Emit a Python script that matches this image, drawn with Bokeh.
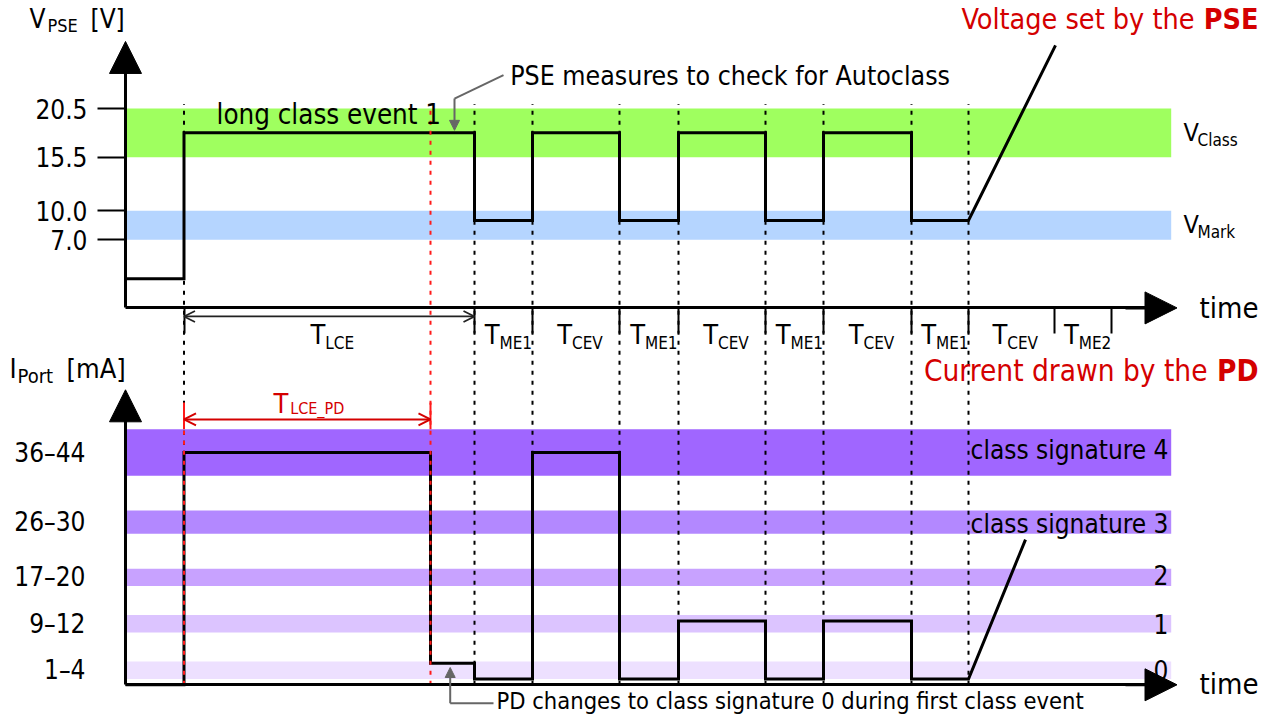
from bokeh.plotting import figure
from bokeh.models import (Range1d, LinearAxis, FixedTicker, NumeralTickFormatter,
                          CustomJSTickFormatter, Arrow, NormalHead, OpenHead)
from bokeh.core.properties import value
from bokeh.embed import file_html
from bokeh.resources import INLINE

# ---------------- data ----------------
# voltage bands [V]
v_band_low = [15.5, 7.0]
v_band_high = [20.5, 10.0]
v_ticks = [7.0, 10.0, 15.5, 20.5]

# current bands [mA] (class signatures 0..4)
i_band_low = [1, 9, 17, 26, 36]
i_band_high = [4, 12, 20, 30, 44]
i_tick_labels = ["1\u20134", "9\u201312", "17\u201320", "26\u201330", "36\u201344"]
class_labels = ["0", "1", "2", "class signature 3", "class signature 4"]

# time boundaries (arbitrary time units)
v_edges = [0, 5.85, 34.9, 40.7, 49.4, 55.3, 64.0, 69.8, 78.6, 84.3]
v_levels = [3, 18, 9, 18, 9, 18, 9, 18, 9]
v_ramp_end = (93.0, 27.0)

t_lce_pd_end = 30.5
i_edges = [0, 5.85, 30.5, 34.9, 40.7, 49.4, 55.3, 64.0, 69.8, 78.6, 84.3]
i_levels = [0, 40, 3.7, 1, 40, 1, 11, 1, 11, 1]
i_ramp_end = (90.0, 25.0)

phase_bounds = [5.85, 34.9, 40.7, 49.4, 55.3, 64.0, 69.8, 78.6, 84.3, 92.85, 98.6]
phase_subs = ["LCE", "ME1", "CEV", "ME1", "CEV", "ME1", "CEV", "ME1", "CEV", "ME2"]

# ---------------- styles / layout constants ----------------
COND = "DejaVu Sans Condensed"
RED = "#d40000"
GUIDE_RED = "#ff1a1a"
GRAY = "#666666"
v_band_colors = ["#9fff5f", "#b5d5ff"]
i_band_colors = ["#ede0ff", "#dcc4ff", "#c8a2ff", "#b388ff", "#a066ff"]
band_right = 104.57
guide_top_mA = 100.0
PX_PER_UNIT = {"default": 9.726, "mA": 5.807}   # vertical px per data unit
BASELINE_FIX = 0.34                              # em, renderer baseline correction

p = figure(width=1260, height=715, x_range=Range1d(-12.5, 113.5),
           y_range=Range1d(-41.91, 31.61), toolbar_location=None,
           output_backend="svg", min_border=0, title=None,
           x_axis_location=None, y_axis_location=None,
           outline_line_color=None, background_fill_color="white",
           border_fill_color="white")
p.extra_y_ranges = {"mA": Range1d(-5.287, 117.84)}
p.xgrid.visible = False
p.ygrid.visible = False


def add_text(xs, ys, texts, size, align="left", color="black", bold=False,
             family=COND, rng="default", x_offset=0):
    shift = BASELINE_FIX * size / PX_PER_UNIT[rng]
    p.text(x=xs, y=[y + shift for y in ys], text=texts, text_font=value(family),
           text_font_size=f"{size}px", text_align=align,
           text_baseline="alphabetic", text_color=color,
           text_font_style="bold" if bold else "normal",
           x_offset=x_offset, y_range_name=rng)


def step_path(edges, levels, ramp_end):
    xs, ys = [], []
    for k, lvl in enumerate(levels):
        xs += [edges[k], edges[k + 1]]
        ys += [lvl, lvl]
    xs.append(ramp_end[0])
    ys.append(ramp_end[1])
    return xs, ys


# ---------------- bands ----------------
p.quad(left=0, right=band_right, bottom=v_band_low, top=v_band_high,
       color=v_band_colors, line_color=None)
p.quad(left=0, right=band_right, bottom=i_band_low, top=i_band_high,
       color=i_band_colors, line_color=None, y_range_name="mA")

# ---------------- dotted guides ----------------
guide_t = v_edges[1:]
p.segment(x0=guide_t, y0=0, x1=guide_t, y1=guide_top_mA, y_range_name="mA",
          line_color="black", line_width=2, line_dash="4 6")

# ---------------- signals ----------------
vx, vy = step_path(v_edges, v_levels, v_ramp_end)
p.line(vx, vy, line_width=3, line_color="black", line_join="miter")
ix, iy = step_path(i_edges, i_levels, i_ramp_end)
p.line(ix, iy, line_width=3, line_color="black", line_join="miter",
       y_range_name="mA")

# red T_LCE_PD guides
p.segment(x0=[t_lce_pd_end, v_edges[1]], y0=0,
          x1=[t_lce_pd_end, v_edges[1]], y1=[guide_top_mA, i_band_high[-1]],
          y_range_name="mA", line_color=GUIDE_RED, line_width=2, line_dash="4 6")
p.segment(x0=[v_edges[1], t_lce_pd_end], y0=48.6,
          x1=[v_edges[1], t_lce_pd_end], y1=i_band_high[-1],
          y_range_name="mA", line_color=GUIDE_RED, line_width=2)

# ---------------- axes ----------------
i_centers = [(a + b) / 2 for a, b in zip(i_band_low, i_band_high)]
ax_v = LinearAxis(fixed_location=0, bounds=(0, 24.5),
                  ticker=FixedTicker(ticks=v_ticks),
                  formatter=NumeralTickFormatter(format="0.0"))
ax_i = LinearAxis(fixed_location=0, bounds=(0, 46), y_range_name="mA",
                  ticker=FixedTicker(ticks=i_centers),
                  formatter=CustomJSTickFormatter(
                      args=dict(centers=i_centers, labels=i_tick_labels),
                      code="const i = centers.indexOf(tick); return i >= 0 ? labels[i] : '';"))
for ax, std in ((ax_v, 10), (ax_i, 12)):
    ax.axis_line_width = 3
    ax.major_tick_out = 28
    ax.major_tick_in = 0
    ax.major_tick_line_width = 2
    ax.minor_tick_line_color = None
    ax.major_label_standoff = std
    ax.major_label_text_font = COND
    ax.major_label_text_font_size = "26px"
    ax.major_label_text_color = "black"
ax_i.major_tick_line_color = None
p.add_layout(ax_v, "left")
p.add_layout(ax_i, "left")

ax_t1 = LinearAxis(fixed_location=0, bounds=(0, 102.5),
                   ticker=FixedTicker(ticks=phase_bounds))
ax_t2 = LinearAxis(fixed_location=0, bounds=(0, 102.5), y_range_name="mA",
                   ticker=FixedTicker(ticks=[]))
for ax in (ax_t1, ax_t2):
    ax.axis_line_width = 3
    ax.major_tick_out = 26
    ax.major_tick_in = 0
    ax.major_tick_line_width = 2
    ax.minor_tick_line_color = None
    ax.major_label_text_color = None
p.add_layout(ax_t1, "below")
p.add_layout(ax_t2, "below")

# axis arrow heads
for (xs_, ys_, xe_, ye_, rng) in ((0, 23, 0, 27.4, "default"),
                                  (0, 44, 0, 50.8, "mA"),
                                  (100, 0, 105.15, 0, "default"),
                                  (100, 0, 105.15, 0, "mA")):
    p.add_layout(Arrow(x_start=xs_, y_start=ys_, x_end=xe_, y_end=ye_,
                       start=None,
                       end=NormalHead(size=32, fill_color="black", line_color="black"),
                       line_width=3, line_color="black", y_range_name=rng))

# duration arrows
p.add_layout(Arrow(x_start=v_edges[1], y_start=-0.88, x_end=v_edges[2], y_end=-0.88,
                   start=OpenHead(size=11, line_color="#222222", line_width=1.8),
                   end=OpenHead(size=11, line_color="#222222", line_width=1.8),
                   line_width=1.8, line_color="#222222"))
p.add_layout(Arrow(x_start=v_edges[1], y_start=45.7, x_end=t_lce_pd_end, y_end=45.7,
                   start=OpenHead(size=12, line_color=RED, line_width=2),
                   end=OpenHead(size=12, line_color=RED, line_width=2),
                   line_width=2, line_color=RED, y_range_name="mA"))

# gray annotation pointers
p.line([37.8, 32.9], [23.93, 21.53], line_color=GRAY, line_width=2)
p.add_layout(Arrow(x_start=32.9, y_start=21.53, x_end=32.9, y_end=18.26, start=None,
                   end=NormalHead(size=10, fill_color=GRAY, line_color=GRAY),
                   line_width=2, line_color=GRAY))
p.line([36.8, 32.47], [-3.18, -3.18], line_color=GRAY, line_width=2, y_range_name="mA")
p.add_layout(Arrow(x_start=32.47, y_start=-3.18, x_end=32.47, y_end=2.98, start=None,
                   end=NormalHead(size=10, fill_color=GRAY, line_color=GRAY),
                   line_width=2, line_color=GRAY, y_range_name="mA"))

# ---------------- texts ----------------
# axis titles
add_text([-9.6], [28.8], ["V"], 26)
add_text([-7.8], [28.37], ["PSE"], 18)
add_text([-3.5], [28.8], ["[V]"], 26)
add_text([-11.6], [52.92], ["I"], 27, rng="mA")
add_text([-10.8], [52.06], ["Port"], 20, rng="mA")
add_text([-5.9], [52.92], ["[mA]"], 27, rng="mA")

# red headings
add_text([106.9], [28.65], ["Voltage set by the"], 28.5, align="right", color=RED)
add_text([113.3], [28.65], ["PSE"], 28.5, align="right", color=RED, bold=True)
add_text([108.2], [52.35], ["Current drawn by the"], 29.5, align="right", color=RED, rng="mA")
add_text([113.3], [52.35], ["PD"], 29.5, align="right", color=RED, bold=True, rng="mA")

# annotations
add_text([9.1], [19.0], ["long class event 1"], 27.5)
add_text([38.47], [23.0], ["PSE measures to check for Autoclass"], 26.5)
add_text([37.1], [-4.08], ["PD changes to class signature 0 during first class event"], 23.5, rng="mA")

# band labels
add_text([105.8, 105.8], [17.2, 7.75], ["V", "V"], 25)
add_text([107.2, 107.2], [16.67, 7.24], ["Class", "Mark"], 17)
add_text([104.3] * 5, [0.96, 9.0, 17.3, 26.2, 38.85], class_labels, 26,
         align="right", rng="mA")

# time labels
add_text([107.4], [-0.99], ["time"], 29)
add_text([107.4], [-1.62], ["time"], 29, rng="mA")

# phase labels
centers = [(a + b) / 2 for a, b in zip(phase_bounds[:-1], phase_bounds[1:])]
add_text(centers, [-3.66] * len(centers), ["T"] * len(centers), 27, align="right", x_offset=-4)
add_text(centers, [-4.22] * len(centers), phase_subs, 17, align="left", x_offset=-4)

# T_LCE_PD
add_text([14.8], [46.9], ["T"], 27, color=RED, rng="mA")
add_text([16.47], [46.72], ["LCE_PD"], 16, color=RED, rng="mA")

open("out.html", "w").write(file_html(p, INLINE, title="Autoclass timing"))
